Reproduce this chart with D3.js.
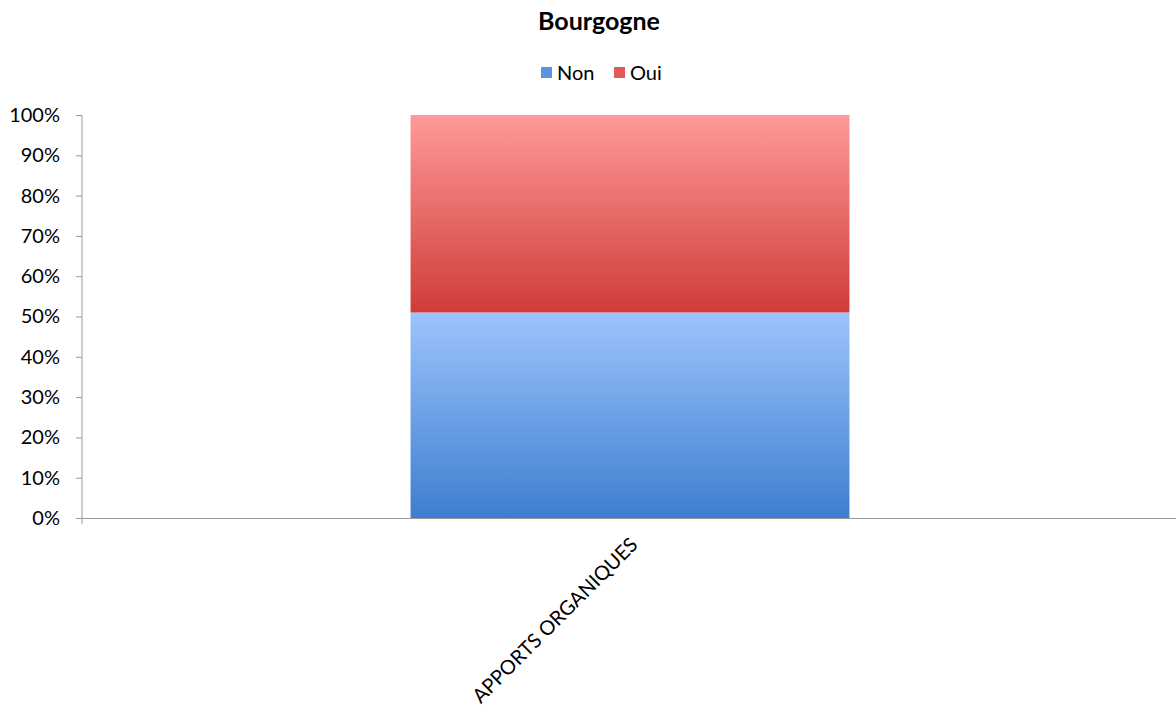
<!DOCTYPE html>
<html>
<head>
<meta charset="utf-8">
<script src="https://cdn.jsdelivr.net/npm/d3@7"></script>
<style>
  body { margin: 0; background: #fff; }
  svg, svg text { font-family: Lato, "Open Sans", sans-serif; }
</style>
</head>
<body>
<div id="chart"></div>
<script>
// Chart data
const title = 'Bourgogne';
const categories = ['APPORTS ORGANIQUES'];
const seriesNames = ['Non', 'Oui'];
const nonValues = [0.51];
const ouiValues = [0.49];
const yTicks = [0, 0.1, 0.2, 0.3, 0.4, 0.5, 0.6, 0.7, 0.8, 0.9, 1];

const width = 1176, height = 708;
const margin = { top: 115, right: 0, bottom: 190, left: 82 };
const innerWidth = width - margin.left - margin.right;
const innerHeight = height - margin.top - margin.bottom;

const svg = d3.select('#chart')
  .append('svg')
  .attr('width', width)
  .attr('height', height);

// Gradients for each series
const defs = svg.append('defs');
const gradients = [
  { id: 'grad-non', top: '#9dc4fd', bottom: '#3e7ecf' },
  { id: 'grad-oui', top: '#ff9a98', bottom: '#cf3c38' }
];
gradients.forEach(g => {
  const lg = defs.append('linearGradient')
    .attr('id', g.id)
    .attr('x1', 0).attr('x2', 0).attr('y1', 0).attr('y2', 1);
  lg.append('stop').attr('offset', '0%').attr('stop-color', g.top);
  lg.append('stop').attr('offset', '100%').attr('stop-color', g.bottom);
});
const colors = d3.scaleOrdinal().domain(seriesNames).range(['url(#grad-non)', 'url(#grad-oui)']);
const legendColors = d3.scaleOrdinal().domain(seriesNames).range(['#5a93e0', '#e05a5a']);

const g = svg.append('g')
  .attr('transform', `translate(${margin.left},${margin.top})`);

const x = d3.scaleBand()
  .domain(categories)
  .range([0, innerWidth])
  .paddingInner(0.598)
  .paddingOuter(0.3);

const y = d3.scaleLinear()
  .domain([0, 1])
  .range([innerHeight, 0]);

// Stack the data
const table = categories.map((c, i) => ({ category: c, Non: nonValues[i], Oui: ouiValues[i] }));
const stacked = d3.stack().keys(seriesNames)(table);

g.selectAll('.layer')
  .data(stacked)
  .enter()
  .append('g')
  .attr('class', 'layer')
  .attr('fill', d => colors(d.key))
  .selectAll('rect')
  .data(d => d)
  .enter()
  .append('rect')
  .attr('x', d => x(d.data.category) + 1)
  .attr('y', d => y(d[1]))
  .attr('width', x.bandwidth())
  .attr('height', d => y(d[0]) - y(d[1]));

// Y axis
const yAxis = g.append('g')
  .call(d3.axisLeft(y).tickValues(yTicks).tickFormat(d3.format('.0%')).tickSize(6).tickPadding(16));
yAxis.attr('font-family', 'Lato, sans-serif');
yAxis.select('.domain').attr('stroke', '#9a9a9a').attr('d', `M0,${innerHeight + 6}V0.5H-6`);
yAxis.selectAll('.tick line').attr('stroke', '#9a9a9a');
yAxis.selectAll('.tick text')
  .attr('fill', '#000')
  .style('font-size', '20px');

// X axis
const xAxis = g.append('g')
  .attr('transform', `translate(0,${innerHeight})`)
  .call(d3.axisBottom(x).tickSize(0).tickPadding(0));
xAxis.attr('font-family', 'Lato, sans-serif');
xAxis.select('.domain').attr('stroke', '#9a9a9a').attr('d', `M-6,0.5H${innerWidth}`);
xAxis.selectAll('.tick text')
  .attr('fill', '#000')
  .style('font-size', '20px')
  .attr('text-anchor', 'end')
  .attr('dy', 0)
  .attr('transform', 'translate(10,28) rotate(-45)');

// Title
svg.append('text')
  .attr('x', width / 2 + 11)
  .attr('y', 30)
  .attr('text-anchor', 'middle')
  .style('font-size', '25px')
  .style('font-weight', 'bold')
  .text(title);

// Legend
const legend = svg.append('g')
  .attr('transform', 'translate(541, 67)');
const legendOffsets = [0, 73];
seriesNames.forEach((name, i) => {
  const row = legend.append('g')
    .attr('transform', `translate(${legendOffsets[i]}, 0)`);
  row.append('rect')
    .attr('width', 11)
    .attr('height', 11)
    .attr('fill', legendColors(name));
  row.append('text')
    .attr('x', 16)
    .attr('y', 13)
    .style('font-size', '20px')
    .text(name);
});
</script>
</body>
</html>
